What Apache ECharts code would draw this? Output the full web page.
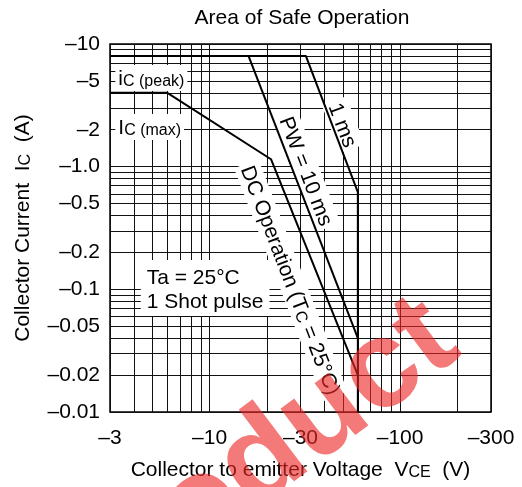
<!DOCTYPE html>
<html><head><meta charset="utf-8">
<script src="https://cdn.jsdelivr.net/npm/echarts@6/dist/echarts.min.js"></script>
<style>html,body{margin:0;padding:0;background:#fff}#c{width:522px;height:487px}</style>
</head><body><div id="c"></div>
<script>
// ---- data (magnitudes; axes are labelled negative) ----
const xTickValues = [3, 10, 30, 100, 300];
const xTickLabels = ['–3', '–10', '–30', '–100', '–300'];
const xGridValues = [3,4,5,6,7,8,9,10,20,30,40,50,60,70,80,90,100,200,300];
const yTickValues = [0.01, 0.02, 0.05, 0.1, 0.2, 0.5, 1, 2, 5, 10];
const yTickLabels = ['–0.01','–0.02','–0.05','–0.1','–0.2','–0.5','–1.0','–2','–5','–10'];
const yGridValues = [0.01,0.02,0.03,0.04,0.05,0.06,0.07,0.08,0.09,
                     0.1,0.2,0.3,0.4,0.5,0.6,0.7,0.8,0.9,
                     1,2,3,4,5,6,7,8,9,10];

// i_C(peak) + 1 ms limit
const peak1msVce = [3, 32, 60, 60];
const peak1msIc  = [8, 8, 0.62, 0.01];
// PW = 10 ms limit
const pw10msVce = [16, 60];
const pw10msIc  = [8, 0.04];
// I_C(max) + DC operation
const dcVce = [3, 6, 21, 60];
const dcIc  = [4, 4, 1.15, 0.02];

const FONT = "'Liberation Sans', Arial, Helvetica, sans-serif";
const FS = 21, FSS = 16;

function zip(a, b) { return a.map((v, i) => [v, b[i]]); }
function lookup(vals, labels, v) {
  for (let i = 0; i < vals.length; i++) {
    if (Math.abs(vals[i] - v) / vals[i] < 1e-6) return labels[i];
  }
  return '';
}

const chart = echarts.init(document.getElementById('c'), null, {renderer: 'canvas'});

const lineSeries = (data) => ({
  type: 'line', data: data, symbol: 'none', silent: true,
  lineStyle: {color: '#000', width: 2}, z: 5
});
const nameRich = {
  n: {fontSize: FS, fontFamily: FONT, color: '#000', lineHeight: 24, verticalAlign: 'bottom'},
  s: {fontSize: FSS, fontFamily: FONT, color: '#000', lineHeight: 12, verticalAlign: 'bottom'}
};

chart.setOption({
  animation: false,
  backgroundColor: '#fff',
  title: {
    text: 'Area of Safe Operation', left: 297, textAlign: 'center', top: 3,
    textStyle: {fontSize: FS, fontWeight: 'normal', color: '#000', fontFamily: FONT}
  },
  grid: {left: 110, right: 31, top: 44, bottom: 75, show: true,
         borderColor: '#000', borderWidth: 1.5, backgroundColor: 'transparent'},
  xAxis: {
    type: 'log', logBase: 10, min: 3, max: 300,
    axisLine: {show: false},
    axisTick: {show: false, customValues: xGridValues},
    axisLabel: {customValues: xTickValues, color: '#000', fontSize: FS, fontFamily: FONT, margin: 16,
                formatter: v => lookup(xTickValues, xTickLabels, v)},
    splitLine: {show: true, lineStyle: {color: '#111', width: 1}},
    name: '{n|Collector to emitter Voltage  V}{s|CE}{n|  (V)}',
    nameLocation: 'middle', nameGap: 45,
    nameTextStyle: {color: '#000', fontFamily: FONT, rich: nameRich}
  },
  yAxis: {
    type: 'log', logBase: 10, min: 0.01, max: 10,
    axisLine: {show: false},
    axisTick: {show: false, customValues: yGridValues},
    axisLabel: {customValues: yTickValues, color: '#000', fontSize: FS, fontFamily: FONT, margin: 10,
                formatter: v => lookup(yTickValues, yTickLabels, v)},
    splitLine: {show: true, lineStyle: {color: '#111', width: 1}},
    name: '{n|Collector Current  I}{s|C}{n|  (A)}',
    nameLocation: 'middle', nameGap: 76, nameRotate: 90,
    nameTextStyle: {color: '#000', fontFamily: FONT, rich: nameRich}
  },
  series: [
    lineSeries(zip(peak1msVce, peak1msIc)),
    lineSeries(zip(pw10msVce, pw10msIc)),
    lineSeries(zip(dcVce, dcIc))
  ]
});

// ---- annotations anchored in data coordinates ----
const ANG = -69 * Math.PI / 180;
const richStyle = {
  n: {fontSize: FS, fontFamily: FONT, fill: '#000', lineHeight: 24, verticalAlign: 'bottom'},
  s: {fontSize: FSS, fontFamily: FONT, fill: '#000', lineHeight: 12, verticalAlign: 'bottom'}
};
const annotations = [
  {at: [3.2, 5.28], text: '{n|i}{s|C (peak)}', align: 'left', rot: 0},
  {at: [3.2, 2.11], text: '{n|I}{s|C (max)}', align: 'left', rot: 0},
  {at: [4.35, 0.1025], text: '{n|Ta = 25°C}\n{n|1 Shot pulse}', align: 'left', rot: 0, pad: [5, 6, 3, 6]},
  {at: [50.3, 2.19], text: '{n|1 ms}', align: 'center', rot: ANG},
  {at: [32.3, 0.922], text: '{n|PW = 10 ms}', align: 'center', rot: ANG},
  {at: [26.7, 0.119], text: '{n|DC Operation (T}{s|C}{n| = 25°C)}', align: 'center', rot: ANG}
];

const els = annotations.map(a => {
  const p = chart.convertToPixel({gridIndex: 0}, a.at);
  return {
    type: 'text', x: p[0], y: p[1], rotation: a.rot, z: 3, silent: true,
    style: {
      text: a.text, rich: richStyle, fill: '#000', font: FS + 'px ' + FONT,
      align: a.align, verticalAlign: 'middle',
      backgroundColor: '#fff', padding: a.pad || [1, 3, 1, 3]
    }
  };
});

// watermark
els.push({
  type: 'text', x: 443, y: 326, rotation: 37 * Math.PI / 180, z: 10, silent: true,
  style: {text: 'Product', font: 'bold 125px ' + FONT, fill: 'rgba(238,40,40,0.62)',
          align: 'right', verticalAlign: 'middle'}
});

chart.setOption({graphic: {elements: els}});
</script>
</body></html>
